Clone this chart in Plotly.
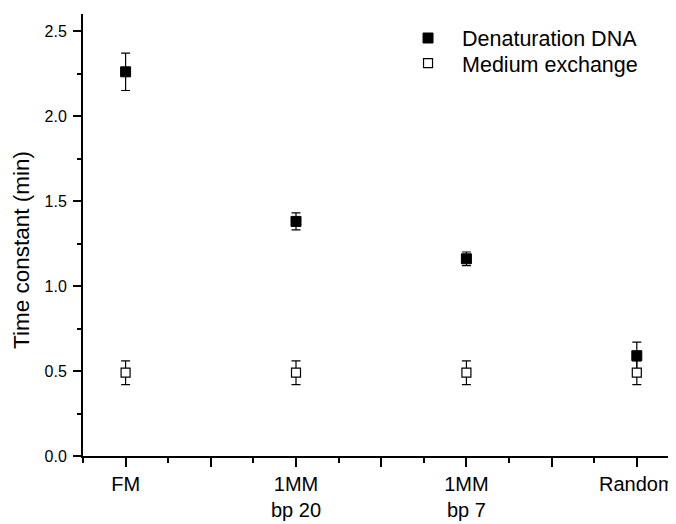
import plotly.graph_objects as go

categories = ["FM", "1MM<br>bp 20", "1MM<br>bp 7", "Random"]
cat_pos = [1, 2, 3, 4]

denat_vals = [2.26, 1.38, 1.16, 0.59]
denat_err = [0.11, 0.05, 0.04, 0.08]

medium_vals = [0.49, 0.49, 0.49, 0.49]
medium_err = [0.07, 0.07, 0.07, 0.07]

y_ticks = [0.0, 0.5, 1.0, 1.5, 2.0, 2.5]

font_family = "Liberation Sans, Arial, sans-serif"

fig = go.Figure()

fig.add_trace(go.Scatter(
    x=cat_pos, y=denat_vals, mode="markers", name="Denaturation DNA",
    marker=dict(symbol="square", size=10, color="black", line=dict(color="black", width=1)),
    error_y=dict(type="data", array=denat_err, visible=True, color="black", thickness=1.2, width=4.5),
    legend="legend",
))
fig.add_trace(go.Scatter(
    x=cat_pos, y=medium_vals, mode="markers", name="Medium exchange",
    marker=dict(symbol="square", size=9, color="white", line=dict(color="black", width=1.2)),
    error_y=dict(type="data", array=medium_err, visible=True, color="black", thickness=1.2, width=4.5),
    legend="legend2",
))

xt_vals = [1, 1.5, 2, 2.5, 3, 3.5, 4]
xt_text = [categories[0], "", categories[1], "", categories[2], "", categories[3]]

legend_style = dict(
    xanchor="left", yanchor="top", bgcolor="rgba(0,0,0,0)",
    font=dict(size=21.5, family=font_family), itemwidth=58,
)

# page body has an 8px default margin, so the figure is 8px smaller and shifted
fig.update_layout(
    width=668, height=516,
    margin=dict(l=75, r=0, t=6, b=68),
    paper_bgcolor="white", plot_bgcolor="white",
    font=dict(family=font_family, color="black"),
    showlegend=True,
    legend=dict(x=0.5245, y=0.992, **legend_style),
    legend2=dict(x=0.5245, y=0.935, **legend_style),
    xaxis=dict(
        range=[0.75, 4.23], showgrid=False, zeroline=False,
        showline=True, linecolor="black", linewidth=2,
        tickmode="array", tickvals=xt_vals, ticktext=xt_text,
        ticks="outside", ticklen=9, tickwidth=1.5, tickcolor="black",
        tickfont=dict(size=20), ticklabelstandoff=0,
        minor=dict(tickmode="linear", tick0=0.75, dtick=0.5, ticks="outside",
                   ticklen=5, tickwidth=1.5, tickcolor="black"),
    ),
    yaxis=dict(
        range=[0, 2.6], showgrid=False, zeroline=False,
        showline=True, linecolor="black", linewidth=2,
        tickmode="array", tickvals=y_ticks, tickformat=".1f",
        ticks="outside", ticklen=8, tickwidth=1.5, tickcolor="black",
        tickfont=dict(size=16), ticklabelstandoff=3,
        minor=dict(tickmode="linear", tick0=0.25, dtick=0.5, ticks="outside",
                   ticklen=4, tickwidth=1.5, tickcolor="black"),
    ),
    annotations=[dict(
        text="Time constant (min)", textangle=-90, showarrow=False,
        xref="paper", yref="paper", x=-0.104, y=0.467,
        xanchor="center", yanchor="middle", font=dict(size=22.5),
    )],
)

fig.write_html("out.html")
